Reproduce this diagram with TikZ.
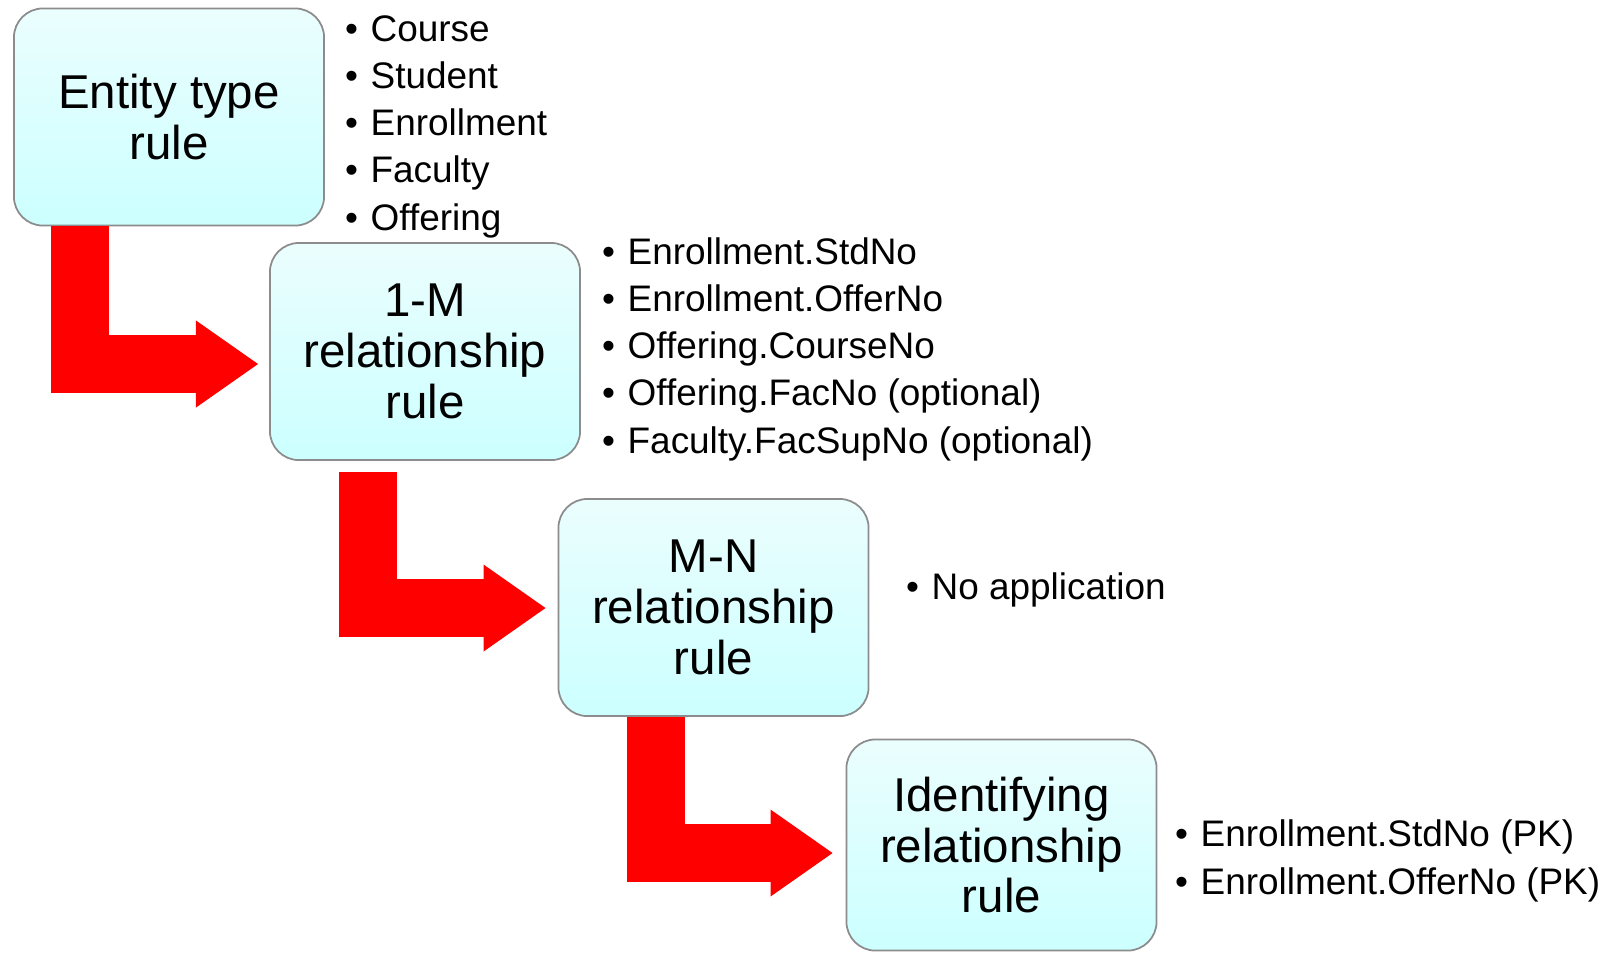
\documentclass[tikz,border=0pt]{standalone}
\usepackage{fontspec}
\setmainfont{Liberation Sans}
\usetikzlibrary{arrows.meta, calc}
\definecolor{boxtop}{HTML}{EBFEFE}
\definecolor{boxbottom}{HTML}{CCFFFF}
\definecolor{boxline}{HTML}{8C8C8C}
\definecolor{flowred}{HTML}{FF0000}
\newcommand{\bitem}{\makebox[0.69em][l]{\textbullet}}

\begin{document}
\begin{tikzpicture}[x=0.01cm, y=-0.01cm,
  rulebox/.style={rectangle, draw=boxline, line width=0.5pt, rounded corners=0.29cm,
    top color=boxtop, bottom color=boxbottom, minimum width=3.1cm, minimum height=2.17cm,
    align=center, font=\fontsize{13.5}{14.5}\selectfont},
  bullets/.style={anchor=base west, inner sep=0pt, align=left, font=\fontsize{10.5}{13.43}\selectfont},
  bentarrow/.style={flowred, line width=0.58cm, -{Triangle[length=0.62cm, width=0.87cm, line width=0pt]}}]
  \useasboundingbox (0,0) rectangle (1610,953);

  % --- Rule boxes ---
  \node[rulebox] (entity) at (169, 117) {Entity type\\rule};
  \node[rulebox] (onem) at (425, 351.5) {1-M\\relationship\\rule};
  \node[rulebox] (mn) at (713.5, 607.5) {M-N\\relationship\\rule};
  \node[rulebox, minimum height=2.11cm] (ident) at (1001.5, 845) {Identifying\\relationship\\rule};

  % --- Bent arrows between the steps ---
  \draw[bentarrow] ($(entity.south west)+(67,0)$) |- ($(onem.west)+(-11,12.5)$);
  \draw[bentarrow] ($(onem.south west)+(99,11)$) |- ($(mn.west)+(-12,0.5)$);
  \draw[bentarrow] ($(mn.south west)+(98,0)$) |- ($(ident.west)+(-13,8)$);

  % --- Bullet lists (base = last line) ---
  \node[bullets] (entlist) at (344.5, 230) {\bitem Course\\\bitem Student\\\bitem Enrollment\\\bitem Faculty\\\bitem Offering};
  \node[bullets] (onemlist) at (601.5, 453) {\bitem Enrollment.StdNo\\\bitem Enrollment.OfferNo\\\bitem Offering.CourseNo\\\bitem Offering.FacNo (optional)\\\bitem Faculty.FacSupNo (optional)};
  \node[bullets] (mnlist) at (905.5, 599) {\bitem No application};
  \node[bullets] (identlist) at (1174.5, 894) {\bitem Enrollment.StdNo (PK)\\\bitem Enrollment.OfferNo (PK)};
\end{tikzpicture}
\end{document}
